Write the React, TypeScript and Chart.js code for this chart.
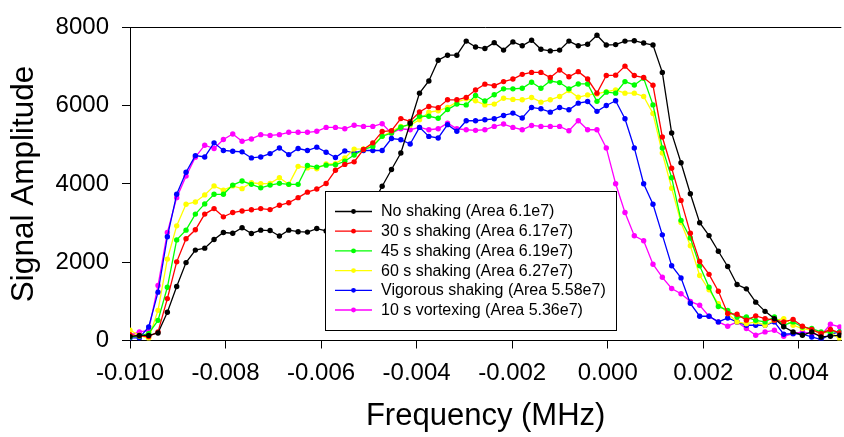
import React, { useEffect, useRef } from 'react';
import { Chart, registerables } from 'chart.js';

Chart.register(...registerables);

// Frequency sampling grid (MHz)
const freqStart = -0.0100;
const freqStep = 0.0001955;

const noShaking = [
  100, 130, 130, 190, 720, 1380, 1990, 2310, 2360, 2580,
  2760, 2740, 2880, 2735, 2820, 2810, 2670, 2820, 2780, 2770,
  2860, 2800, 2820, 2850, 2900, 3100, 3500, 3940, 4370, 4790,
  5550, 6320, 6630, 7160, 7290, 7290, 7650, 7500, 7460, 7610,
  7420, 7630, 7530, 7670, 7440, 7400, 7420, 7650, 7530, 7570,
  7800, 7550, 7560, 7650, 7660, 7600, 7550, 6850, 5300, 4540,
  3750, 3010, 2680, 2280, 1890, 1430, 1320, 980, 745, 560,
  350, 220, 135, 220, 90, 110, 135,
];
const shaking30s = [
  150, 120, 100, 220, 1070, 2010, 2600, 2830, 3230, 3370,
  3160, 3270, 3310, 3340, 3370, 3345, 3455, 3520, 3650, 3790,
  3870, 4010, 4350, 4500, 4565, 4880, 5050, 5340, 5360, 5670,
  5600, 5840, 5980, 5950, 6150, 6150, 6210, 6400, 6550, 6510,
  6615, 6680, 6800, 6850, 6850, 6720, 6910, 6740, 6870, 6680,
  6320, 6770, 6780, 7010, 6770, 6720, 6520, 5200, 4400, 3580,
  2740, 2020, 1690, 1260, 690, 670, 520, 630, 560, 520,
  475, 540, 365, 280, 180, 280, 195,
];
const shaking45s = [
  90, 110, 180, 515, 1360, 2570, 2820, 3230, 3490, 3735,
  3735, 3970, 4075, 3990, 3900, 3970, 4015, 3990, 3990, 4470,
  4430, 4480, 4490, 4580, 4740, 4880, 4960, 5220, 5300, 5450,
  5530, 5730, 5730, 5680, 5900, 6040, 6020, 6260, 6120, 6280,
  6430, 6430, 6445, 6600, 6445, 6630, 6590, 6430, 6555, 6555,
  6110, 6345, 6320, 6615, 6530, 6700, 6020, 4920, 4160, 3070,
  2620, 1910, 1360, 870, 770, 600, 600, 515, 475, 600,
  390, 475, 345, 305, 220, 220, 220,
];
const shaking60s = [
  260, 135, 50, 770, 2080, 2930, 3480, 3540, 3720, 3950,
  3840, 3950, 3880, 4030, 4005, 4015, 4160, 3990, 4450, 4410,
  4390, 4510, 4520, 4665, 4890, 4895, 5005, 5220, 5345, 5470,
  5500, 5640, 5835, 5870, 5955, 6090, 6175, 6125, 6020, 6040,
  6190, 6160, 6150, 6210, 6090, 6150, 6235, 6385, 6215, 6275,
  6300, 6360, 6400, 6320, 6320, 6235, 5800, 4790, 3890, 3015,
  2420, 1660, 1295, 940, 690, 475, 430, 475, 390, 515,
  560, 390, 305, 260, 180, 220, 30,
];
const vigorous = [
  65, 65, 345, 1235, 2650, 3735, 4300, 4725, 4690, 5050,
  4855, 4835, 4820, 4665, 4690, 4775, 4920, 4750, 4905, 4855,
  4940, 4810, 4675, 4845, 4795, 4855, 4855, 4855, 5160, 5130,
  5020, 5445, 5215, 5175, 5515, 5345, 5615, 5615, 5640, 5665,
  5750, 5810, 5685, 5955, 5920, 5835, 5955, 5895, 6065, 6105,
  5855, 6005, 6125, 5665, 4920, 4005, 3480, 2700, 1910, 1600,
  950, 620, 620, 475, 575, 475, 390, 390, 390, 475,
  160, 175, 160, 90, 25, 160, 220,
];
const vortex10s = [
  135, 220, 260, 1405, 2760, 3650, 4200, 4685, 4990, 4905,
  5135, 5275, 5090, 5150, 5260, 5240, 5260, 5320, 5320, 5320,
  5345, 5445, 5445, 5410, 5500, 5470, 5470, 5540, 5295, 5410,
  5385, 5445, 5385, 5410, 5555, 5410, 5385, 5370, 5385, 5470,
  5530, 5445, 5385, 5495, 5470, 5470, 5470, 5360, 5615, 5385,
  5385, 4920, 4005, 3270, 2675, 2550, 1950, 1615, 1330, 1195,
  1000, 900, 620, 475, 365, 475, 305, 135, 220, 260,
  110, 175, 220, 175, 135, 415, 345,
];

const seriesValues = [noShaking, shaking30s, shaking45s, shaking60s, vigorous, vortex10s];
const seriesLabels = [
  'No shaking (Area 6.1e7)',
  '30 s shaking (Area 6.17e7)',
  '45 s shaking (Area 6.19e7)',
  '60 s shaking (Area 6.27e7)',
  'Vigorous shaking (Area 5.58e7)',
  '10 s vortexing (Area 5.36e7)',
];
const seriesColors = ['#000000', '#ff0000', '#00ff00', '#ffff00', '#0000ff', '#ff00ff'];

const xTickValues = [-0.010, -0.008, -0.006, -0.004, -0.002, 0.000, 0.002, 0.004];
const yTickValues = [0, 2000, 4000, 6000, 8000];

const xMin = -0.010;
const xMax = 0.00489;
const yMin = 0;
const yMax = 8000;

const FONT = '"Liberation Sans", Arial, Helvetica, sans-serif';

const framePlugin = {
  id: 'topFrame',
  beforeDatasetsDraw(chart: any) {
    const { ctx, chartArea } = chart;
    ctx.save();
    ctx.strokeStyle = '#000';
    ctx.lineWidth = 1;
    ctx.beginPath();
    ctx.moveTo(chartArea.left, Math.round(chartArea.top) + 0.5);
    ctx.lineTo(chartArea.right, Math.round(chartArea.top) + 0.5);
    ctx.stroke();
    ctx.restore();
  },
};

const boxLegendPlugin = {
  id: 'boxLegend',
  afterDatasetsDraw(chart: any) {
    const { ctx, chartArea } = chart;
    const left = Math.round(chartArea.left + 195);
    const top = Math.round(chartArea.top + 164);
    const w = 291;
    const h = 139;
    ctx.save();
    ctx.fillStyle = '#ffffff';
    ctx.fillRect(left, top, w, h);
    ctx.strokeStyle = '#000';
    ctx.lineWidth = 1;
    ctx.strokeRect(left + 0.5, top + 0.5, w, h);
    ctx.font = `16px ${FONT}`;
    ctx.textBaseline = 'middle';
    ctx.textAlign = 'left';
    chart.data.datasets.forEach((ds: any, k: number) => {
      const y = top + 20.5 + k * 19.7;
      ctx.strokeStyle = ds.borderColor;
      ctx.lineWidth = 1.3;
      ctx.beginPath();
      ctx.moveTo(left + 10, y);
      ctx.lineTo(left + 47, y);
      ctx.stroke();
      ctx.fillStyle = ds.borderColor;
      ctx.beginPath();
      ctx.arc(left + 28.5, y, 2.4, 0, Math.PI * 2);
      ctx.fill();
      ctx.fillStyle = '#000';
      ctx.fillText(ds.label, left + 56, y + 0.5);
    });
    ctx.restore();
  },
};

export default function App() {
  const canvasRef = useRef<HTMLCanvasElement | null>(null);

  useEffect(() => {
    if (!canvasRef.current) return;
    const datasets = seriesValues.map((vals, k) => ({
      label: seriesLabels[k],
      data: vals.map((v, i) => ({ x: freqStart + i * freqStep, y: v })),
      borderColor: seriesColors[k],
      backgroundColor: seriesColors[k],
      pointBackgroundColor: seriesColors[k],
      pointBorderColor: seriesColors[k],
      borderWidth: 1.3,
      pointRadius: 2.7,
      pointBorderWidth: 0,
      pointHoverRadius: 2.7,
      tension: 0,
      fill: false,
    }));

    const chart = new Chart(canvasRef.current, {
      type: 'line',
      data: { datasets },
      plugins: [framePlugin, boxLegendPlugin],
      options: {
        animation: false,
        responsive: true,
        maintainAspectRatio: false,
        parsing: false as any,
        layout: { padding: { left: 0, right: 0, top: 25, bottom: 0 } },
        plugins: {
          legend: { display: false },
          tooltip: { enabled: false },
          title: { display: false },
        },
        scales: {
          x: {
            type: 'linear',
            min: xMin,
            max: xMax,
            afterBuildTicks: (scale: any) => {
              scale.ticks = xTickValues.map((v) => ({ value: v }));
            },
            afterFit: (scale: any) => {
              scale.height = 96.5;
            },
            grid: {
              display: true,
              drawOnChartArea: false,
              drawTicks: true,
              tickLength: 8,
              color: '#000',
              lineWidth: 1,
            },
            border: { display: true, color: '#000', width: 1 },
            ticks: {
              autoSkip: false,
              maxRotation: 0,
              minRotation: 0,
              padding: 10,
              color: '#000',
              font: { family: FONT, size: 24 },
              callback: (v: any) => (Math.abs(Number(v)) < 1e-12 ? '0.000' : Number(v).toFixed(3)),
            },
            title: {
              display: true,
              text: 'Frequency (MHz)',
              color: '#000',
              font: { family: FONT, size: 31 },
              padding: { top: 0, bottom: 2 },
            },
          },
          y: {
            type: 'linear',
            min: yMin,
            max: yMax,
            afterBuildTicks: (scale: any) => {
              scale.ticks = yTickValues.map((v) => ({ value: v }));
            },
            afterFit: (scale: any) => {
              scale.width = 130;
            },
            grid: {
              display: true,
              drawOnChartArea: false,
              drawTicks: true,
              tickLength: 8,
              color: '#000',
              lineWidth: 1,
            },
            border: { display: true, color: '#000', width: 1 },
            ticks: {
              padding: 13,
              color: '#000',
              font: { family: FONT, size: 24 },
              callback: (v: any) => String(v),
            },
            title: {
              display: true,
              text: 'Signal Amplitude',
              color: '#000',
              font: { family: FONT, size: 31.5 },
              padding: { top: 5, bottom: 0 },
            },
          },
        },
      },
    });
    return () => chart.destroy();
  }, []);

  return (
    <div style={{ position: 'fixed', left: 0, top: 0, width: 844, height: 437, background: '#fff' }}>
      <canvas ref={canvasRef} />
    </div>
  );
}
